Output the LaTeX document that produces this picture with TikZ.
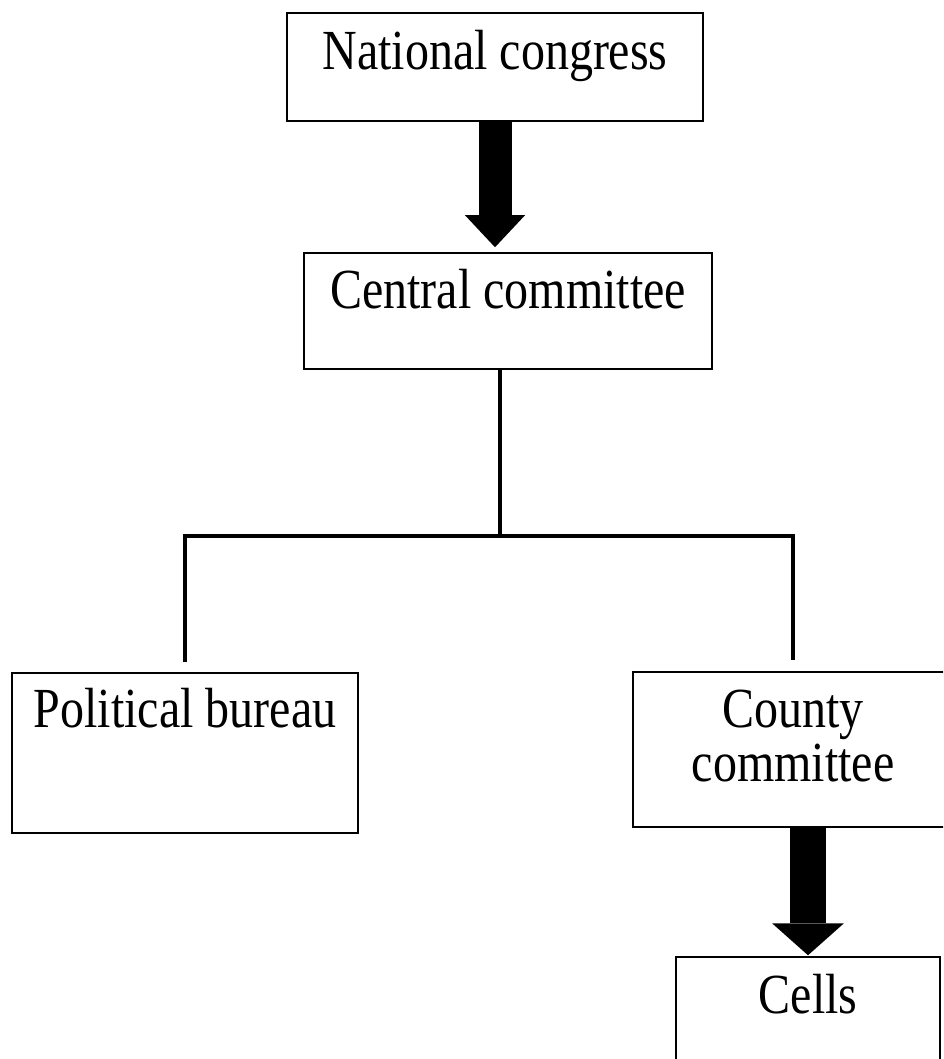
\documentclass[tikz,border=0pt]{standalone}
\usepackage{graphicx}
\usepackage{fontspec}
\setmainfont{Liberation Serif}
\usetikzlibrary{arrows.meta}

\newcommand{\tall}[1]{\scalebox{1}[1.18]{#1}}

\tikzset{every picture/.style={line width=0.75pt}}
\tikzset{
  orgbox/.style={draw, line width=1.5pt, inner sep=0pt, anchor=base,
    font=\fontsize{48}{46.6}\selectfont},
  bigarrow/.style={-{Triangle[length=32pt,width=#1,line width=0pt]}},
  link/.style={line width=3.5pt}
}

\begin{document}
\begin{tikzpicture}[x=1pt,y=1pt,yscale=-1,xscale=1]
\clip (0,0) rectangle (943,1059); %page is 943 x 1059

%Shape: Rectangle
\node[orgbox, minimum width=416pt, text height=57pt, text depth=51pt] (natcong) at (495,70) {\tall{National congress}};
%Shape: Rectangle
\node[orgbox, minimum width=408pt, text height=55pt, text depth=61pt] (centcom) at (508,308) {\tall{Central committee}};
%Shape: Rectangle
\node[orgbox, minimum width=346pt, text height=54pt, text depth=106pt] (polbur) at (185,727) {\tall{Political bureau}};
%Shape: Rectangle
\node[orgbox, minimum width=320pt, text height=55pt, text depth=100pt] (county) at (793,727)
  {\tall{\begin{tabular}[t]{@{}c@{}}County\\committee\end{tabular}}};
%Shape: Rectangle
\node[orgbox, minimum width=264pt, text height=56pt, text depth=150pt] (cells) at (808,1013) {\tall{Cells}};

%Block Arrows
\draw[bigarrow=60pt, line width=33pt, shorten >=5pt] (natcong.south) -- (natcong.south |- centcom.north);
\draw[bigarrow=72pt, line width=36pt, shorten >=1pt] (county.south -| cells.north) -- (cells.north);

%Straight Lines
\coordinate (fork) at (500,536);
\draw[link] ([xshift=-8pt]centcom.south) -- (fork);
\draw[link] ([yshift=-10pt]polbur.north) |- (fork) -| ([yshift=-11pt]county.north);

\end{tikzpicture}
\end{document}
